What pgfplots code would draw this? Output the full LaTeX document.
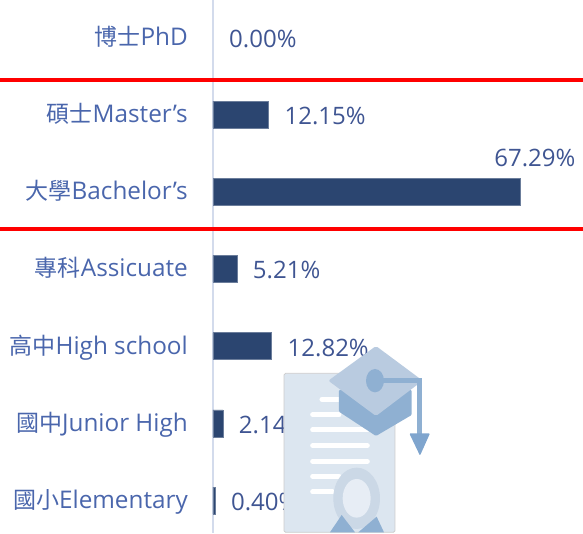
\documentclass[border=0pt]{standalone}
\usepackage{pgfplots}
\pgfplotsset{compat=1.18}
\usepackage{fontspec}
\setmainfont{Open Sans}
\newfontfamily\cjkf{Noto Sans CJK TC}
\newcommand{\cjk}[1]{{\fontsize{23}{26}\selectfont\cjkf #1}}
\definecolor{lab}{HTML}{4A66AC}
\definecolor{val}{HTML}{3F5592}
\definecolor{barc}{HTML}{2B4570}
\definecolor{axl}{HTML}{D3DBEC}
\definecolor{paper}{HTML}{DCE6F0}
\definecolor{capt}{HTML}{B9CBE0}
\definecolor{capb}{HTML}{8FB0D2}
\definecolor{tass}{HTML}{7FA5CE}
\definecolor{seal}{HTML}{CBD8E6}
\begin{document}
\begin{tikzpicture}[x=1pt,y=1pt]
\begin{axis}[
  at={(0pt,0pt)},anchor=south west,
  scale only axis,width=370pt,height=533pt,
  xmin=0,xmax=81.09,
  y dir=reverse,ymin=-0.483,ymax=6.42,
  axis x line=none,
  axis y line=left,
  axis line style={-,axl,line width=1.2pt},
  ytick={0,1,2,3,4,5,6},
  yticklabels={\cjk{博士}PhD,\cjk{碩士}Master's,\cjk{大學}Bachelor's,\cjk{專科}Assicuate,\cjk{高中}High school,\cjk{國中}Junior High,\cjk{國小}Elementary},
  yticklabel style={font=\fontsize{24.3}{28}\selectfont,text=lab,anchor=east,inner sep=0pt,xshift=-25pt,text height=22pt,text depth=6pt},
  major tick length=0pt,
  clip=false,
  xbar,bar shift=0pt,bar width=27pt,
  point meta=explicit,
  /pgf/number format/assume math mode=true,
  nodes near coords={\pgfmathprintnumber[fixed,fixed zerofill,precision=2,assume math mode=true]{\pgfplotspointmeta}\%},
  every node near coord/.append style={font=\fontsize{24}{28}\selectfont,text=val,anchor=west,inner sep=0pt,xshift=16pt,yshift=-1.5pt},
]
\addplot[fill=none,draw=none] coordinates {(0,0)[0]};
\addplot[fill=barc,draw=barc!70!white,line width=0.4pt] coordinates {(12.15,1)[12.15] (5.21,3)[5.21] (12.82,4)[12.82] (2.14,5)[2.14] (0.40,6)[0.40]};
\addplot[fill=barc,draw=barc!70!white,line width=0.4pt,
  every node near coord/.append style={anchor=east,xshift=39.5pt,yshift=35pt}] coordinates {(67.29,2)[67.29]};
\draw[red,line width=4.5pt] (axis cs:-46.68,0.55) -- (axis cs:81.09,0.55);
\draw[red,line width=4.5pt] (axis cs:-46.68,2.485) -- (axis cs:81.09,2.485);
\end{axis}
\begin{scope}[shift={(57,193)},x=0.3333pt,y=-0.3333pt]
\fill[paper,draw=black!20,line width=0.8pt,rounded corners=1.5pt] (42,100) rectangle (375,577);
\foreach \a/\b/\c in {150/210/178,122/210/224,122/295/270,122/295/317,122/295/364,122/210/409,122/190/456}
  \draw[white,line width=5pt,line cap=round] (\a+6,\c) -- (\b-3,\c);
\fill[seal] (260,475) ellipse [x radius=70,y radius=92];
\fill[paper!70!white] (260,475) ellipse [x radius=42,y radius=58];
\fill[capb] (215,525) -- (180,577) -- (255,577) -- cycle;
\fill[capb] (320,530) -- (342,577) -- (265,577) -- cycle;
\fill[capb,rounded corners=1pt] (207,150) -- (207,215) -- (318,288) -- (425,225) -- (425,150) -- cycle;
\fill[capt,rounded corners=2pt] (175,122) -- (318,18) -- (458,122) -- (318,228) -- cycle;
\fill[capb] (315,122) ellipse [x radius=27,y radius=35];
\draw[capb,line width=5.5pt] (315,122) -- (448,122) -- (448,290);
\fill[tass,rounded corners=1pt] (418,280) -- (480,280) -- (450,347) -- cycle;
\end{scope}
\pgfresetboundingbox
\path[use as bounding box] (-213,0) rectangle (370,533);
\end{tikzpicture}
\end{document}
